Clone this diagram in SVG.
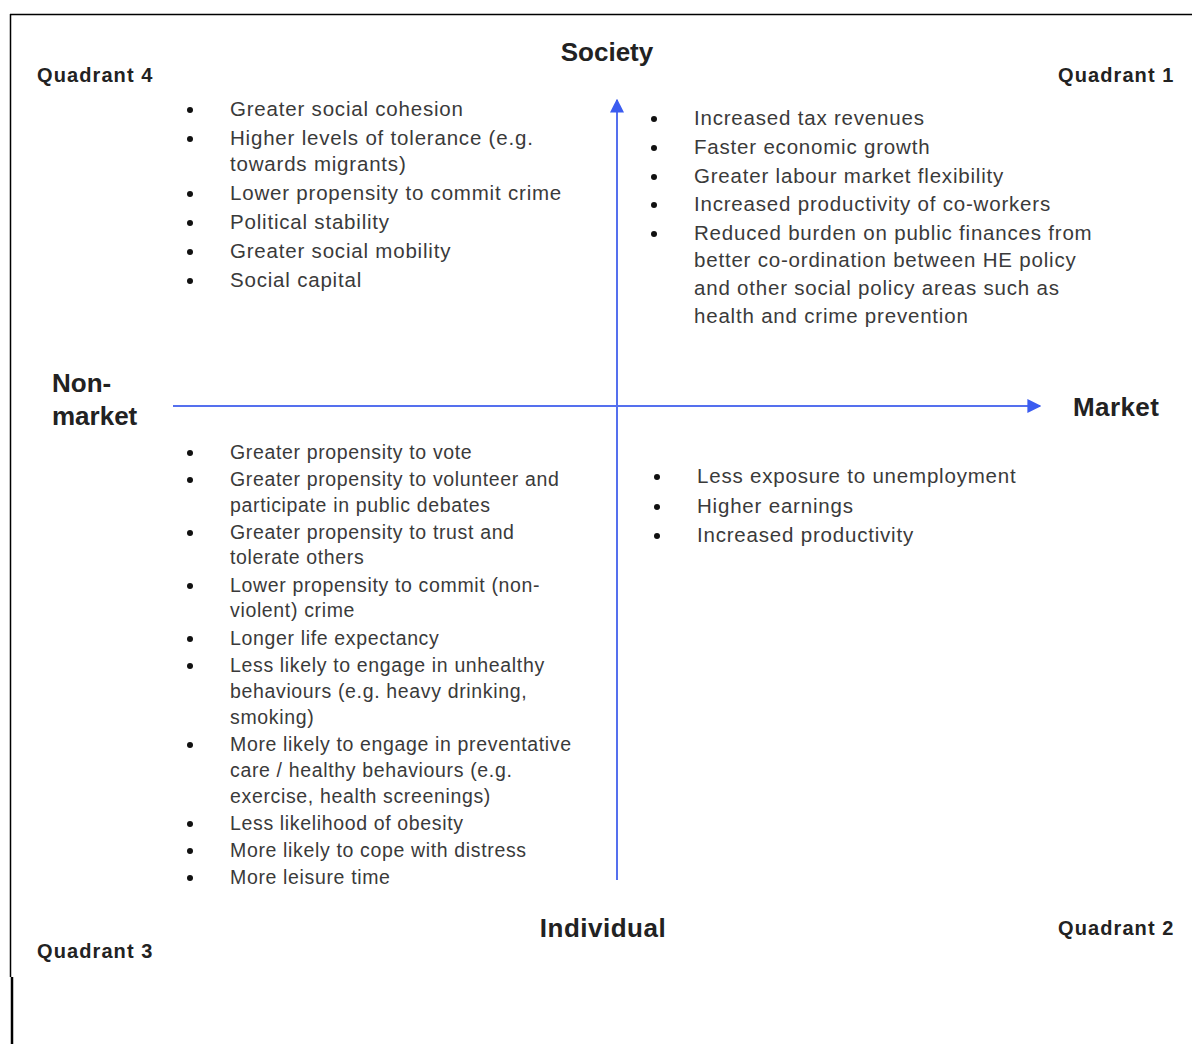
<svg xmlns="http://www.w3.org/2000/svg" width="1192" height="1044" viewBox="0 0 1192 1044">
<style>
.item{font-family:"Liberation Sans",Arial,sans-serif;font-size:20.5px;letter-spacing:0.8px;fill:#3a3a3a}
.sm{font-size:19.5px;letter-spacing:0.65px}
.bul{fill:#111}
.axl{font-family:"Liberation Sans",Arial,sans-serif;font-size:26px;font-weight:bold;fill:#222}
.ql{font-family:"Liberation Sans",Arial,sans-serif;font-size:20px;letter-spacing:1.1px;font-weight:bold;fill:#222}
.axis{stroke:#5570ee;stroke-width:2;fill:none}
</style>
<defs>
<marker id="ah2" viewBox="0 0 10 10" refX="9" refY="5" markerWidth="14" markerHeight="14" orient="auto" markerUnits="userSpaceOnUse">
<path d="M0,0 L10,5 L0,10 z" fill="#3b5cf0"/>
</marker>
</defs>
<rect width="1192" height="1044" fill="#fff"/>
<g id="frame" stroke="#000" fill="none">
<line x1="10" y1="14.5" x2="1192" y2="14.5" stroke-width="1.5"/>
<line x1="10.5" y1="14" x2="10.5" y2="977" stroke-width="1.5"/>
<line x1="12" y1="977" x2="12" y2="1044" stroke-width="2.5"/>
</g>
<g id="connectors">
<line class="axis" x1="617" y1="880" x2="617" y2="100" marker-end="url(#ah2)"/>
<line class="axis" x1="173" y1="406" x2="1040" y2="406" marker-end="url(#ah2)"/>
</g>
<g id="axis-labels">
<text id="society" class="axl" x="607" y="61" text-anchor="middle">Society</text>
<text id="individual" class="axl" x="603" y="937" text-anchor="middle" letter-spacing="0.5">Individual</text>
<text id="market" class="axl" x="1073" y="416" letter-spacing="0.4">Market</text>
<text id="nonmarket" class="axl" x="52"><tspan x="52" y="392">Non-</tspan><tspan x="52" y="425">market</tspan></text>
</g>
<g id="quadrant-labels">
<text class="ql" x="37" y="82">Quadrant 4</text>
<text class="ql" x="1058" y="82">Quadrant 1</text>
<text class="ql" x="37" y="958">Quadrant 3</text>
<text class="ql" x="1058" y="935">Quadrant 2</text>
</g>
<g id="q4">
<g class="bul"><circle cx="190" cy="110" r="3"/><circle cx="190" cy="139" r="3"/><circle cx="190" cy="194" r="3"/><circle cx="190" cy="223" r="3"/><circle cx="190" cy="252" r="3"/><circle cx="190" cy="281" r="3"/></g>
<text class="item" x="230" y="116">Greater social cohesion</text>
<text class="item" x="230" y="145">Higher levels of tolerance (e.g.</text>
<text class="item" x="230" y="171">towards migrants)</text>
<text class="item" x="230" y="200">Lower propensity to commit crime</text>
<text class="item" x="230" y="229">Political stability</text>
<text class="item" x="230" y="258">Greater social mobility</text>
<text class="item" x="230" y="287">Social capital</text>
</g>
<g id="q1">
<g class="bul"><circle cx="654" cy="119" r="3"/><circle cx="654" cy="148" r="3"/><circle cx="654" cy="177" r="3"/><circle cx="654" cy="205" r="3"/><circle cx="654" cy="234" r="3"/></g>
<text class="item" x="694" y="125">Increased tax revenues</text>
<text class="item" x="694" y="154">Faster economic growth</text>
<text class="item" x="694" y="183">Greater labour market flexibility</text>
<text class="item" x="694" y="211">Increased productivity of co-workers</text>
<text class="item" x="694" y="240">Reduced burden on public finances from</text>
<text class="item" x="694" y="267">better co-ordination between HE policy</text>
<text class="item" x="694" y="295">and other social policy areas such as</text>
<text class="item" x="694" y="323">health and crime prevention</text>
</g>
<g id="q2">
<g class="bul"><circle cx="657" cy="477" r="3"/><circle cx="657" cy="507" r="3"/><circle cx="657" cy="536" r="3"/></g>
<text class="item" x="697" y="483">Less exposure to unemployment</text>
<text class="item" x="697" y="513">Higher earnings</text>
<text class="item" x="697" y="542">Increased productivity</text>
</g>
<g id="q3">
<g class="bul"><circle cx="190" cy="453" r="3"/><circle cx="190" cy="480" r="3"/><circle cx="190" cy="533" r="3"/><circle cx="190" cy="586" r="3"/><circle cx="190" cy="639" r="3"/><circle cx="190" cy="666" r="3"/><circle cx="190" cy="745" r="3"/><circle cx="190" cy="824" r="3"/><circle cx="190" cy="851" r="3"/><circle cx="190" cy="878" r="3"/></g>
<text class="item sm" x="230" y="459">Greater propensity to vote</text>
<text class="item sm" x="230" y="486">Greater propensity to volunteer and</text>
<text class="item sm" x="230" y="512">participate in public debates</text>
<text class="item sm" x="230" y="539">Greater propensity to trust and</text>
<text class="item sm" x="230" y="564">tolerate others</text>
<text class="item sm" x="230" y="592">Lower propensity to commit (non-</text>
<text class="item sm" x="230" y="617">violent) crime</text>
<text class="item sm" x="230" y="645">Longer life expectancy</text>
<text class="item sm" x="230" y="672">Less likely to engage in unhealthy</text>
<text class="item sm" x="230" y="698">behaviours (e.g. heavy drinking,</text>
<text class="item sm" x="230" y="724">smoking)</text>
<text class="item sm" x="230" y="751">More likely to engage in preventative</text>
<text class="item sm" x="230" y="777">care / healthy behaviours (e.g.</text>
<text class="item sm" x="230" y="803">exercise, health screenings)</text>
<text class="item sm" x="230" y="830">Less likelihood of obesity</text>
<text class="item sm" x="230" y="857">More likely to cope with distress</text>
<text class="item sm" x="230" y="884">More leisure time</text>
</g>
</svg>
